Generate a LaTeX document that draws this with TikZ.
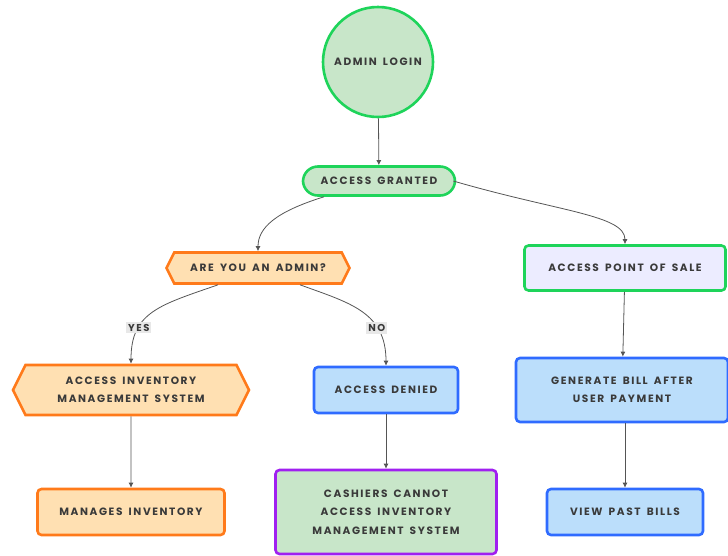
\documentclass[tikz,border=0pt]{standalone}
\usepackage{fontspec}
\setmainfont{Poppins}[LetterSpace=15, WordSpace=1.6]
\usetikzlibrary{shapes.symbols,arrows.meta}

\definecolor{lgreen}{HTML}{C8E6C9}
\definecolor{dgreen}{HTML}{1ED45A}
\definecolor{lorange}{HTML}{FFE0B2}
\definecolor{dorange}{HTML}{FF7A1A}
\definecolor{lblue}{HTML}{BBDEFB}
\definecolor{dblue}{HTML}{2F6BFF}
\definecolor{lpurple}{HTML}{ECECFF}
\definecolor{dpurple}{HTML}{A020F0}
\definecolor{txtgrey}{HTML}{3A3A3A}
\definecolor{linegrey}{HTML}{555555}

\tikzset{
  flow/.style={line width=2.6pt, text=txtgrey, font=\bfseries\fontsize{10.6}{18.5}\selectfont,
    align=center, inner sep=2pt},
  greenflow/.style={flow, draw=dgreen, fill=lgreen},
  orangeflow/.style={flow, draw=dorange, fill=lorange},
  blueflow/.style={flow, draw=dblue, fill=lblue, rounded corners=4pt},
  hexflow/.style={orangeflow, shape=signal, signal to=west and east, signal pointer angle=127},
  arr/.style={draw=linegrey, line width=0.8pt, -{Latex[length=5pt,width=5pt]}},
  edgelabel/.style={fill=black!9, text=txtgrey, inner sep=2pt,
    font=\bfseries\fontsize{10}{10}\selectfont}
}

\begin{document}
\begin{tikzpicture}[x=1pt, y=-1pt]

\useasboundingbox (0,0) rectangle (728,555);

%% top
\node[greenflow, circle, minimum size=110pt] (login) at (378,62) {ADMIN LOGIN};
\node[greenflow, rounded corners=15pt, minimum width=152pt, minimum height=29pt] (granted) at (379,181) {ACCESS GRANTED};

%% second row
\node[hexflow, minimum width=183pt, minimum height=31pt] (admin) at (258,268) {ARE YOU AN ADMIN?};
\node[greenflow, fill=lpurple, rounded corners=4pt, minimum width=201pt, minimum height=45pt] (pos) at (625,268) {ACCESS POINT OF SALE};

%% third row
\node[hexflow, minimum width=236pt, minimum height=50pt] (invsys) at (131,390) {ACCESS INVENTORY\\MANAGEMENT SYSTEM};
\node[blueflow, minimum width=144pt, minimum height=46pt] (denied) at (386,390) {ACCESS DENIED};
\node[blueflow, minimum width=212pt, minimum height=64pt] (bill) at (622,390) {GENERATE BILL AFTER\\USER PAYMENT};

%% bottom row
\node[orangeflow, rounded corners=4pt, minimum width=187pt, minimum height=46pt] (manages) at (131,512) {MANAGES INVENTORY};
\node[flow, draw=dpurple, fill=lgreen, rounded corners=4pt, minimum width=221pt, minimum height=84pt] (cashiers) at (386,512) {CASHIERS CANNOT\\ACCESS INVENTORY\\MANAGEMENT SYSTEM};
\node[blueflow, minimum width=156pt, minimum height=46pt] (pastbills) at (625,512) {VIEW PAST BILLS};

%% connectors
\draw[arr] (login) -- (granted);

\draw[arr] ([xshift=-55]granted.south) .. controls (275,212) and (258,228) .. (admin.north);
\draw[arr] ([xshift=-3]granted.east) .. controls (560,212) and (625,215) .. (pos.north);

\draw[arr] ([xshift=-40]admin.south) .. controls (160,305) and (131,312) .. node[edgelabel, pos=0.7] {YES} (invsys.north);
\draw[arr] ([xshift=42]admin.south) .. controls (350,303) and (386,312) .. node[edgelabel, pos=0.7] {NO} (denied.north);

\draw[arr] (invsys) -- (manages);
\draw[arr] (denied) -- (cashiers);
\draw[arr] (pos) -- (bill);
\draw[arr] (bill.south -| pastbills) -- (pastbills);

\end{tikzpicture}
\end{document}
